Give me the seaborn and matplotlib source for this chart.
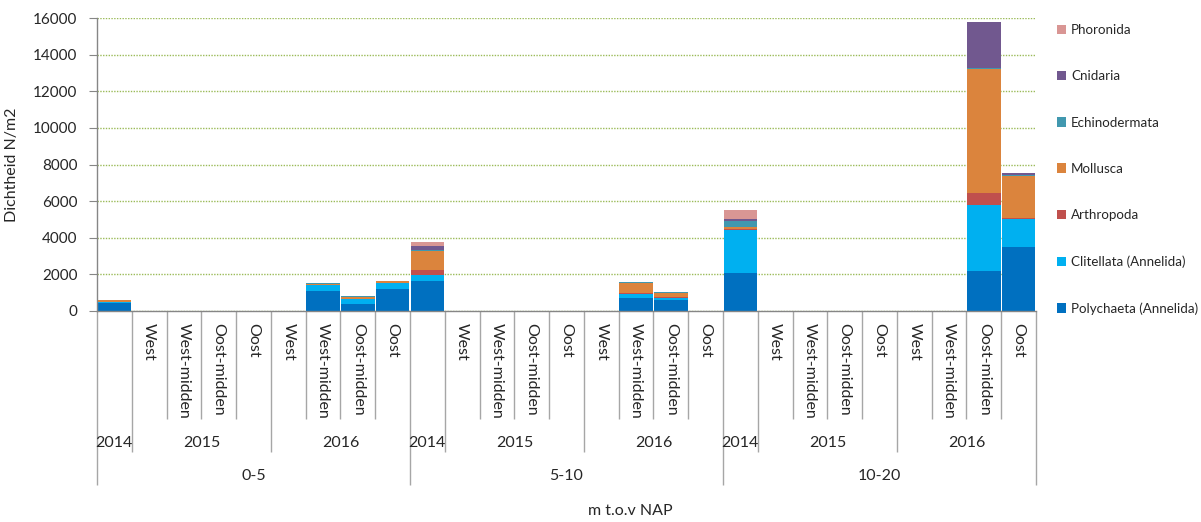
import numpy as np
import pandas as pd
import seaborn as sns
import matplotlib.pyplot as plt
from matplotlib.patches import Patch

# x-axis categories: 3 depth groups x 9 year/location slots
depths = ['0-5', '5-10', '10-20']
slot_years = ['2014', '2015', '2015', '2015', '2015', '2016', '2016', '2016', '2016']
slot_locs = ['', 'West', 'West-midden', 'Oost-midden', 'Oost',
             'West', 'West-midden', 'Oost-midden', 'Oost']

# density (N/m2) per column, 27 columns
polychaeta = [430, 0, 0, 0, 0, 0, 1100, 380, 1190,
              1650, 0, 0, 0, 0, 0, 730, 620, 0,
              2100, 0, 0, 0, 0, 0, 0, 2200, 3500]
clitellata = [60, 0, 0, 0, 0, 0, 300, 250, 320,
              330, 0, 0, 0, 0, 0, 215, 110, 0,
              2300, 0, 0, 0, 0, 0, 0, 3570, 1530]
arthropoda = [20, 0, 0, 0, 0, 0, 20, 30, 30,
              260, 0, 0, 0, 0, 0, 30, 30, 0,
              60, 0, 0, 0, 0, 0, 0, 660, 70]
mollusca = [80, 0, 0, 0, 0, 0, 80, 120, 100,
            1020, 0, 0, 0, 0, 0, 580, 200, 0,
            150, 0, 0, 0, 0, 0, 0, 6770, 2290]
echinodermata = [10, 0, 0, 0, 0, 0, 10, 20, 10,
                 70, 0, 0, 0, 0, 0, 20, 80, 0,
                 320, 0, 0, 0, 0, 0, 0, 90, 60]
cnidaria = [0, 0, 0, 0, 0, 0, 0, 0, 0,
            235, 0, 0, 0, 0, 0, 0, 0, 0,
            80, 0, 0, 0, 0, 0, 0, 2490, 90]
phoronida = [0, 0, 0, 0, 0, 0, 0, 0, 0,
             185, 0, 0, 0, 0, 0, 0, 0, 0,
             500, 0, 0, 0, 0, 0, 0, 0, 0]

groups = ['Polychaeta (Annelida)', 'Clitellata (Annelida)', 'Arthropoda',
          'Mollusca', 'Echinodermata', 'Cnidaria', 'Phoronida']
colors = ['#0070C0', '#00B0F0', '#C0504D', '#DB843D', '#4198AF', '#71588F', '#D99694']

df = pd.DataFrame(dict(zip(groups, [polychaeta, clitellata, arthropoda, mollusca,
                                    echinodermata, cnidaria, phoronida])))
df['col'] = np.arange(len(df))
cum = df[groups].cumsum(axis=1)

sns.set_style('white')
plt.rcParams['font.family'] = ['Lato', 'DejaVu Sans']

fig = plt.figure(figsize=(12.01, 5.22), dpi=100)
ax = fig.add_axes([97 / 1201, 1 - 311 / 522, 939 / 1201, 293 / 522])

# stacked bars: draw cumulative totals from top layer down
for g, c in zip(groups[::-1], colors[::-1]):
    sns.barplot(x=df['col'], y=cum[g], color=c, saturation=1, width=0.96,
                linewidth=0, ax=ax, order=list(range(len(df))))

ax.set_xlim(-0.5, len(df) - 0.5)
ax.set_ylim(0, 16000)
ax.set_yticks(range(0, 16001, 2000))
ax.tick_params(axis='y', labelsize=11, left=True, length=6, color='#868686', pad=8)
ax.set_xticks([])
ax.set_xlabel('')
ax.set_ylabel('Dichtheid N/m2', fontsize=11.5)
ax.yaxis.set_label_coords((18.5 - 97) / 939, 0.5)
ax.yaxis.grid(True, color='#9BBB59', linestyle=(0, (1, 1)), linewidth=1)
ax.set_axisbelow(True)
for s in ['top', 'right']:
    ax.spines[s].set_visible(False)
for s in ['left', 'bottom']:
    ax.spines[s].set_color('#868686')
    ax.spines[s].set_linewidth(1)

# multi-level category axis
tr = ax.get_xaxis_transform()
lvl_loc, lvl_year, lvl_depth = -0.369, -0.481, -0.594
n = len(df)
for b in range(n + 1):
    if b % 9 == 0:
        bottom = lvl_depth
    elif b % 9 in (1, 5):
        bottom = lvl_year
    else:
        bottom = lvl_loc
    ax.vlines(b - 0.5, bottom, 0, transform=tr, colors='#A6A6A6', linewidth=1, clip_on=False)

for d, depth in enumerate(depths):
    base = d * 9
    for i, loc in enumerate(slot_locs):
        if loc:
            ax.text(base + i, -0.04, loc, transform=tr, rotation=270, ha='center', va='top', fontsize=11.5)
    ax.text(base, lvl_year + 0.03, '2014', transform=tr, ha='center', va='center', fontsize=11.5)
    ax.text(base + 2.5, lvl_year + 0.03, '2015', transform=tr, ha='center', va='center', fontsize=11.5)
    ax.text(base + 6.5, lvl_year + 0.03, '2016', transform=tr, ha='center', va='center', fontsize=11.5)
    ax.text(base + 4, lvl_depth + 0.03, depth, transform=tr, ha='center', va='center', fontsize=11.5)

fig.text(630 / 1201, 1 - 511 / 522, 'm t.o.v NAP', ha='center', va='center', fontsize=11.5)

handles = [Patch(facecolor=c, edgecolor='none') for c in colors[::-1]]
ax.legend(handles, groups[::-1], loc='upper left', bbox_to_anchor=(1057 / 1201, 1 - 24 / 522),
          bbox_transform=fig.transFigure, frameon=False, fontsize=9.6, labelspacing=2.57,
          handlelength=0.7, handleheight=0.7, handletextpad=0.35, borderpad=0, borderaxespad=0)

fig.savefig('out.png', dpi=100)
